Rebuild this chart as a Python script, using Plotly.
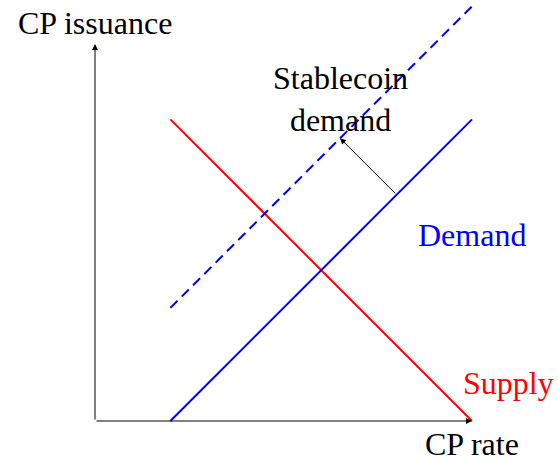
import plotly.graph_objects as go

# Data (model units)
supply_x = [1, 5]
supply_y = [4, 0]
demand_x = [1, 5]
demand_y = [0, 4]
shifted_x = [1, 5]
shifted_y = [1.5, 5.5]
shift_arrow_from = (4, 3)
shift_arrow_to = (3.25, 3.75)
axis_max_x = 5
axis_max_y = 5

W, H = 558, 461
unit = 75.4
ox, oy = 95, 421  # pixel of origin

fig = go.Figure()
fig.add_trace(go.Scatter(x=supply_x, y=supply_y, mode="lines",
                         line=dict(color="#ff0000", width=2), hoverinfo="skip"))
fig.add_trace(go.Scatter(x=demand_x, y=demand_y, mode="lines",
                         line=dict(color="#0000ff", width=2), hoverinfo="skip"))
fig.add_trace(go.Scatter(x=shifted_x, y=shifted_y, mode="lines",
                         line=dict(color="#0000ff", width=2, dash="10px,6px"), hoverinfo="skip"))

font = dict(family="Liberation Serif", size=32, color="black")

def arrow(x0, y0, x1, y1, w=1):
    fig.add_annotation(x=x1, y=y1, ax=x0, ay=y0, xref="x", yref="y", axref="x", ayref="y",
                       showarrow=True, arrowhead=2, arrowsize=1.2, arrowwidth=w,
                       arrowcolor="black", text="")

arrow(0, 0, axis_max_x, 0)
arrow(0, 0, 0, axis_max_y)
arrow(shift_arrow_from[0], shift_arrow_from[1], shift_arrow_to[0], shift_arrow_to[1])

def label(x, y, t, color="black"):
    f = dict(font); f["color"] = color
    fig.add_annotation(x=x, y=y, text=t, showarrow=False, font=f, xref="x", yref="y",
                       xanchor="center", yanchor="middle", borderpad=0)

# label centres measured in reference pixels
label(0, (oy - 23) / unit, "CP issuance")
label(5, (oy - 444) / unit, "CP rate")
label(5, (oy - 235) / unit, "Demand", "#0000ff")
label((508 - ox) / unit, (oy - 383) / unit, "Supply", "#ff0000")
label(3.25, (oy - 99) / unit, "Stablecoin<br>demand")

fig.update_layout(
    width=W, height=H, margin=dict(l=0, r=0, t=0, b=0),
    paper_bgcolor="white", plot_bgcolor="white", showlegend=False,
    xaxis=dict(range=[-ox / unit, (W - ox) / unit], visible=False, fixedrange=True),
    yaxis=dict(range=[-(H - oy) / unit, oy / unit], visible=False, fixedrange=True),
)
fig.write_html("out.html",
               config={"displayModeBar": False, "staticPlot": True},
               post_script="document.body.style.margin='0';document.body.style.overflow='hidden';")
